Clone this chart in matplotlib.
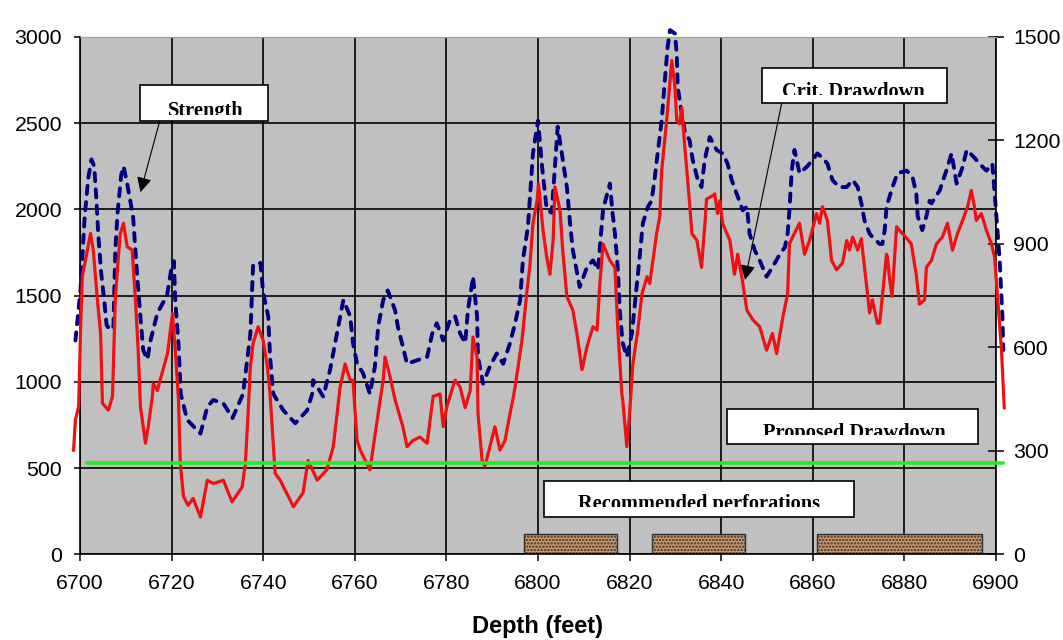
import matplotlib
matplotlib.use("Agg")
import matplotlib.pyplot as plt
from matplotlib.patches import Rectangle
from matplotlib.transforms import Bbox, TransformedBbox

# -------------------------------------------------------------#
#   data
# -------------------------------------------------------------#
# rock strength (left axis)
strength_depth = [
    6699.0, 6700.1, 6701.0, 6701.8, 6702.5, 6703.1, 6703.6, 6704.0, 6704.6, 6705.3,
    6705.8, 6706.6, 6707.3, 6707.7, 6708.2, 6709.0, 6709.5, 6710.3, 6711.6, 6712.5,
    6713.2, 6713.8, 6714.7, 6715.4, 6716.9, 6719.0, 6719.9, 6720.5, 6720.8, 6721.5,
    6722.0, 6723.4, 6726.3, 6727.8, 6729.1, 6731.3, 6733.3, 6735.6, 6737.2, 6737.8,
    6739.4, 6740.0, 6741.1, 6741.5, 6742.2, 6744.4, 6747.0, 6749.6, 6750.7, 6750.9,
    6753.1, 6754.6, 6756.1, 6757.5, 6759.0, 6759.6, 6760.5, 6761.8, 6763.3, 6764.4,
    6765.1, 6766.2, 6767.2, 6768.8, 6769.4, 6770.3, 6771.4, 6773.6, 6775.8, 6776.9,
    6777.9, 6779.3, 6780.8, 6781.9, 6783.0, 6784.1, 6784.7, 6785.6, 6785.8, 6786.7,
    6786.9, 6788.0, 6789.5, 6791.0, 6792.4, 6793.9, 6795.0, 6796.1, 6796.7, 6797.8,
    6798.9, 6800.0, 6800.9, 6801.9, 6803.0, 6804.3, 6805.2, 6806.3, 6807.0, 6807.6,
    6809.1, 6810.7, 6812.0, 6813.1, 6814.2, 6815.7, 6816.3, 6816.8, 6817.4, 6817.9,
    6818.5, 6819.4, 6820.5, 6821.6, 6822.2, 6822.9, 6824.0, 6824.8, 6825.5, 6826.1,
    6827.0, 6827.7, 6828.3, 6828.8, 6829.9, 6830.3, 6830.5, 6831.4, 6832.0, 6833.1,
    6833.8, 6834.9, 6835.7, 6836.4, 6837.5, 6839.0, 6840.3, 6841.4, 6842.3, 6843.4,
    6844.7, 6845.6, 6846.2, 6847.3, 6848.4, 6849.9, 6851.2, 6852.8, 6853.9, 6854.5,
    6854.9, 6855.4, 6856.0, 6857.1, 6858.6, 6859.9, 6861.0, 6862.1, 6863.2, 6864.3,
    6865.8, 6867.4, 6868.7, 6869.8, 6870.6, 6871.3, 6872.4, 6873.0, 6874.6, 6875.2,
    6875.7, 6876.1, 6877.4, 6878.5, 6880.5, 6881.8, 6882.6, 6882.9, 6883.9, 6884.8,
    6885.5, 6885.9, 6887.7, 6889.4, 6890.3, 6891.4, 6892.7, 6893.6, 6895.3, 6896.4,
    6897.9, 6899.2, 6899.7, 6900.8, 6901.4, 6901.6,
]
strength = [
    1240, 1530, 1950, 2180, 2290, 2250, 2050, 1850, 1640, 1470,
    1330, 1300, 1320, 1760, 1980, 2200, 2250, 2150, 1955, 1610,
    1375, 1185, 1130, 1240, 1400, 1500, 1650, 1700, 1470, 1225,
    930, 780, 700, 855, 895, 875, 790, 930, 1280, 1680,
    1690, 1515, 1380, 1145, 930, 835, 760, 835, 930, 1010,
    915, 1070, 1280, 1475, 1380, 1225, 1105, 1050, 930, 1090,
    1320, 1475, 1530, 1415, 1320, 1225, 1105, 1125, 1145, 1280,
    1340, 1240, 1360, 1380, 1280, 1225, 1415, 1570, 1610, 1380,
    1145, 990, 1090, 1165, 1105, 1225, 1340, 1475, 1705, 1900,
    2325, 2515, 2245, 2000, 1980, 2480, 2325, 2130, 1920, 1765,
    1550, 1665, 1705, 1650, 2000, 2150, 1975, 1860, 1665, 1395,
    1225, 1145, 1280, 1570, 1725, 1920, 2015, 2050, 2185, 2320,
    2515, 2750, 2940, 3040, 3020, 2900, 2710, 2555, 2460, 2400,
    2285, 2170, 2130, 2285, 2420, 2345, 2325, 2265, 2170, 2090,
    1995, 2015, 1860, 1765, 1705, 1610, 1665, 1740, 1780, 1860,
    1995, 2225, 2345, 2210, 2245, 2285, 2325, 2300, 2265, 2170,
    2130, 2130, 2170, 2130, 2035, 1935, 1860, 1840, 1800, 1800,
    1880, 2015, 2130, 2210, 2225, 2185, 2090, 1960, 1880, 1960,
    2050, 2035, 2110, 2245, 2325, 2150, 2245, 2345, 2300, 2265,
    2225, 2265, 2100, 1705, 1380, 1185,
]

# critical drawdown (right axis)
drawdown_depth = [
    6698.6, 6699.0, 6699.7, 6700.1, 6700.5, 6701.6, 6702.3, 6702.9, 6703.8, 6704.5,
    6704.9, 6706.2, 6707.1, 6707.7, 6708.2, 6708.8, 6709.5, 6710.3, 6711.4, 6712.1,
    6712.7, 6713.2, 6714.3, 6714.9, 6715.8, 6716.0, 6716.9, 6717.5, 6719.1, 6720.2,
    6720.8, 6721.5, 6721.9, 6722.6, 6723.6, 6724.7, 6726.3, 6727.8, 6729.1, 6731.3,
    6733.2, 6735.4, 6736.1, 6736.7, 6737.2, 6737.8, 6738.9, 6740.0, 6740.9, 6741.5,
    6742.6, 6743.7, 6746.6, 6748.7, 6749.8, 6751.8, 6753.9, 6755.3, 6756.8, 6757.9,
    6759.0, 6759.6, 6760.5, 6761.2, 6763.3, 6764.9, 6766.2, 6766.6, 6767.7, 6768.8,
    6770.5, 6771.4, 6772.7, 6774.2, 6775.8, 6777.1, 6778.6, 6779.3, 6780.1, 6781.4,
    6781.9, 6783.0, 6784.1, 6785.2, 6785.8, 6786.7, 6786.9, 6787.8, 6788.4, 6789.5,
    6790.6, 6791.7, 6792.8, 6793.9, 6794.5, 6795.0, 6796.5, 6797.6, 6798.2, 6798.9,
    6799.8, 6800.1, 6801.1, 6801.9, 6802.6, 6803.3, 6803.7, 6804.8, 6805.4, 6806.3,
    6807.6, 6808.5, 6809.6, 6810.7, 6812.0, 6812.9, 6813.5, 6814.2, 6815.7, 6816.8,
    6817.4, 6818.3, 6818.5, 6819.4, 6820.0, 6820.7, 6821.8, 6822.7, 6823.8, 6824.4,
    6825.1, 6825.9, 6826.6, 6827.0, 6828.1, 6829.2, 6829.9, 6830.3, 6830.9, 6831.4,
    6832.0, 6832.5, 6833.1, 6833.6, 6834.7, 6835.7, 6836.4, 6836.8, 6837.9, 6838.6,
    6839.2, 6839.7, 6840.3, 6841.9, 6842.9, 6843.6, 6844.5, 6845.6, 6846.9, 6848.4,
    6849.9, 6851.2, 6852.1, 6853.5, 6854.5, 6854.9, 6855.6, 6857.1, 6858.2, 6859.3,
    6860.8, 6861.5, 6862.1, 6863.2, 6864.1, 6865.2, 6866.5, 6867.4, 6868.0, 6868.7,
    6869.8, 6870.6, 6871.7, 6872.4, 6873.0, 6874.1, 6874.6, 6875.2, 6876.1, 6876.3,
    6876.8, 6877.3, 6878.3, 6878.9, 6879.6, 6880.6, 6881.5, 6882.6, 6883.3, 6884.4,
    6884.8, 6885.9, 6887.0, 6888.3, 6889.4, 6890.5, 6891.6, 6892.7, 6893.8, 6894.6,
    6895.3, 6895.7, 6896.8, 6897.9, 6899.0, 6899.7, 6900.4, 6901.2, 6901.8,
]
crit_drawdown = [
    302, 390, 428, 640, 805, 882, 930, 882, 738, 640,
    438, 418, 458, 738, 832, 930, 960, 892, 882, 738,
    592, 428, 322, 370, 458, 495, 475, 505, 582, 698,
    592, 450, 262, 168, 142, 162, 108, 215, 205, 215,
    152, 195, 262, 408, 545, 612, 660, 620, 545, 465,
    235, 215, 138, 178, 272, 215, 245, 312, 485, 552,
    505, 505, 330, 302, 245, 390, 505, 572, 515, 448,
    370, 312, 330, 340, 322, 458, 465, 370, 428, 485,
    505, 485, 425, 475, 630, 572, 408, 272, 255, 312,
    370, 302, 330, 408, 448, 485, 620, 765, 832, 960,
    1025, 1075, 940, 862, 812, 910, 1065, 998, 882, 748,
    708, 640, 535, 602, 660, 650, 785, 900, 852, 832,
    660, 465, 448, 312, 408, 550, 650, 755, 805, 785,
    852, 930, 980, 1112, 1258, 1432, 1355, 1258, 1248, 1295,
    1190, 1112, 1018, 930, 910, 832, 950, 1030, 1038, 1045,
    988, 1025, 960, 910, 812, 870, 805, 708, 680, 660,
    592, 640, 582, 690, 755, 900, 920, 960, 870, 910,
    988, 960, 1008, 968, 852, 825, 845, 910, 882, 920,
    882, 915, 785, 700, 738, 670, 670, 748, 870, 862,
    795, 748, 950, 940, 930, 915, 900, 810, 725, 738,
    832, 852, 900, 920, 960, 882, 930, 968, 1008, 1055,
    1008, 968, 988, 940, 900, 862, 738, 592, 425,
]

proposed_drawdown = 265
proposed_span = [6701.5, 6901.5]

# recommended perforation intervals (top, bottom depth)
perf_top = [6797.0, 6825.0, 6861.0]
perf_bottom = [6817.3, 6845.2, 6897.0]

# -------------------------------------------------------------#
#   figure
# -------------------------------------------------------------#
plt.rcParams['font.family'] = ['Liberation Sans', 'DejaVu Sans']
plt.rcParams['hatch.color'] = '#9a6236'
plt.rcParams['hatch.linewidth'] = 1.2

fig = plt.figure(figsize=(10.63, 6.4), dpi=100)
ax = fig.add_axes([80 / 1063, 1 - 554.3 / 640, 916 / 1063, 517.3 / 640])
ax.set_facecolor('#c0c0c0')
ax.set_axisbelow(True)

ax.set_xlim(6700, 6900)
ax.set_ylim(0, 3000)
ax.set_xticks(range(6700, 6901, 20))
ax.set_yticks(range(0, 3001, 500))
ax.grid(True, color='black', linewidth=1.2)

ax.spines['top'].set_color('#a0a0a0')
ax.spines['right'].set_visible(False)
for s in ['left', 'bottom']:
    ax.spines[s].set_linewidth(1.2)
ax.tick_params(axis='y', direction='out', length=4, width=1.1, pad=9, labelsize=15.3)
ax.tick_params(axis='x', direction='out', length=5, width=1.1, pad=9, labelsize=15.3)
ax.set_xlabel('Depth (feet)', fontsize=17, fontweight='bold', labelpad=16)

ax2 = ax.twinx()
ax2.set_ylim(0, 1500)
ax2.set_yticks(range(0, 1501, 300))
ax2.spines['top'].set_color('#a0a0a0')
ax2.spines['left'].set_visible(False)
ax2.spines['bottom'].set_visible(False)
ax2.spines['right'].set_linewidth(1.2)
ax2.tick_params(axis='y', direction='inout', length=11, width=1.1, pad=7, labelsize=15.3)

# strength curve, dashed
ax.plot(strength_depth, strength, color='#000080', linewidth=2.8,
        dashes=(2.1, 2.1), dash_capstyle='round', clip_on=False, zorder=3)

# critical drawdown and proposed drawdown on the right axis
ax2.plot(drawdown_depth, crit_drawdown, color='#ee1111', linewidth=2.3,
         clip_on=False, zorder=3)
ax2.plot(proposed_span, [proposed_drawdown, proposed_drawdown], color='#22ee22',
         linewidth=2.6, clip_on=False, zorder=4)

# perforation bars
for top, bot in zip(perf_top, perf_bottom):
    ax.add_patch(Rectangle((top, 10), bot - top, 108, facecolor='#d29a68',
                           edgecolor='#303030', linewidth=1.0, hatch='.....',
                           zorder=2))


# -------------------------------------------------------------#
#   label boxes, text cut off at the lower edge as in the source
# -------------------------------------------------------------#
def label_box(x0, x1, y0, y1, xt, base, cut, text):
    ax2.add_patch(Rectangle((x0, y0), x1 - x0, y1 - y0, transform=ax.transData,
                            facecolor='white', edgecolor='black', linewidth=1.2,
                            zorder=6))
    t = ax2.text(xt, y0 + base, text, transform=ax.transData, ha='center',
                 va='baseline', fontsize=14.7, fontweight='bold',
                 family=['Liberation Serif', 'DejaVu Serif'], zorder=7)
    t.set_clip_box(TransformedBbox(Bbox([[x0, y0 + cut], [x1, y1]]), ax.transData))
    t.set_clip_on(True)


label_box(6713.2, 6741.1, 2512, 2720, 6727.4, 27, 35, 'Strength')
label_box(6849.0, 6889.2, 2615, 2818, 6868.9, 37, 48, 'Crit. Drawdown')
label_box(6841.2, 6896.0, 640, 843, 6869.1, 37, 54, 'Proposed Drawdown')
label_box(6801.3, 6869.1, 216, 425, 6835.1, 48, 56, 'Recommended perforations')

arrow = dict(arrowstyle='-|>,head_length=0.6,head_width=0.3', color='black',
             lw=0.8, mutation_scale=15, shrinkA=0, shrinkB=0)
ax2.annotate('', xy=(6713.2, 2100), xytext=(6717.4, 2512),
             xycoords=ax.transData, textcoords=ax.transData,
             arrowprops=arrow, zorder=7)
ax2.annotate('', xy=(6845.2, 1591), xytext=(6853.2, 2615),
             xycoords=ax.transData, textcoords=ax.transData,
             arrowprops=arrow, zorder=7)

plt.savefig('out.png', dpi=100)
